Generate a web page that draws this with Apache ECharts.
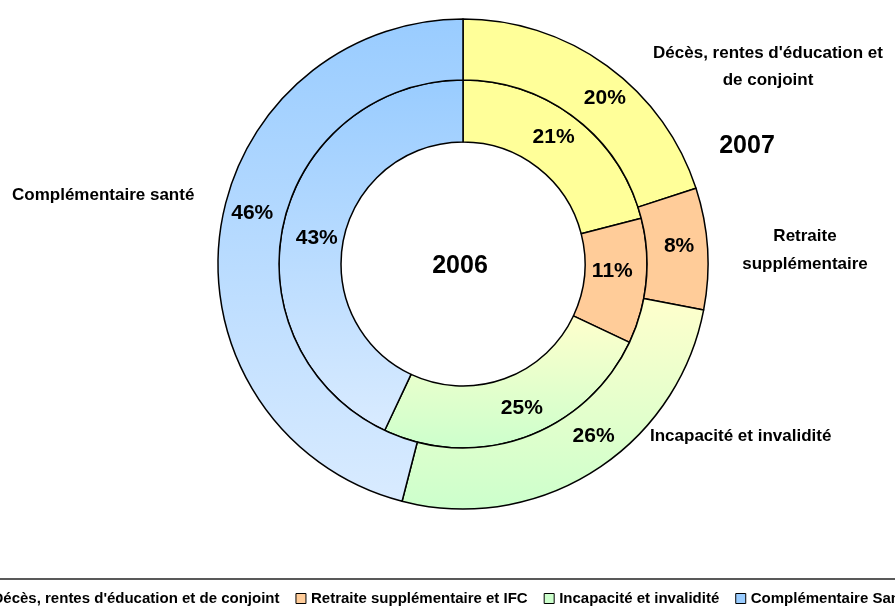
<!DOCTYPE html>
<html>
<head>
    <meta charset="utf-8">
    <title>ECharts</title>
    <script src="https://cdn.jsdelivr.net/npm/echarts@6/dist/echarts.min.js"></script>
    <style>
        html, body { margin: 0; padding: 0; background: #fff; }
    </style>
</head>
<body>
    <div id="main" style="width: 895px;height:610px;"></div>
    <script type="text/javascript">
        // catégories et parts (%)
        var categories = ["Décès, rentes d'éducation et de conjoint", 'Retraite supplémentaire et IFC', 'Incapacité et invalidité', 'Complémentaire Santé'];
        var values2006 = [21, 11, 25, 43];
        var values2007 = [20, 8, 26, 46];

        var colors = [
            '#FFFF99',
            '#FFCC99',
            new echarts.graphic.LinearGradient(0, 0, 0, 1, [{offset: 0, color: '#FFFFCC'}, {offset: 1, color: '#CCFFCC'}]),
            new echarts.graphic.LinearGradient(0, 0, 0, 1, [{offset: 0, color: '#99CCFF'}, {offset: 1, color: '#D9EBFF'}])
        ];
        var legendColors = ['#FFFF99', '#FFCC99', '#CCFFCC', '#99CCFF'];

        // petits décalages des étiquettes pour coller au placement d'origine
        var shift2006 = [[-5, -4], [-6, -7], [6, -3], [6, 8]];
        var shift2007 = [[14, 10], [-1, -4], [14, -11], [5, -24]];

        var center = [463, 264];

        function buildData(values) {
            return values.map(function (v, i) {
                return { name: categories[i], value: v, itemStyle: { color: colors[i] } };
            });
        }

        function ring(name, values, radius, shift) {
            return {
                name: name,
                type: 'pie',
                center: center,
                radius: radius,
                startAngle: 90,
                clockwise: true,
                silent: true,
                avoidLabelOverlap: false,
                itemStyle: { borderColor: '#000', borderWidth: 1.5 },
                label: {
                    show: true,
                    position: 'inside',
                    formatter: '{c}%',
                    color: '#000',
                    fontFamily: 'Liberation Sans Narrow, Liberation Sans, Arial',
                    fontWeight: 'bold',
                    fontSize: 21
                },
                labelLine: { show: false },
                labelLayout: function (p) {
                    return { dx: shift[p.dataIndex][0], dy: shift[p.dataIndex][1] };
                },
                emphasis: { disabled: true },
                data: buildData(values)
            };
        }

        var labelFont = 'bold 17px "Liberation Sans", Arial';
        var yearFont = 'bold 25px "Liberation Sans", Arial';

        var myChart = echarts.init(document.getElementById('main'));
        var option = {
            animation: false,
            legend: {
                left: -28,
                top: 586,
                width: 1100,
                itemWidth: 10,
                itemHeight: 10,
                itemGap: 16,
                icon: 'rect',
                selectedMode: false,
                textStyle: { color: '#000', fontFamily: 'Liberation Sans, Arial', fontWeight: 'bold', fontSize: 15 },
                data: categories.map(function (c, i) {
                    return { name: c, itemStyle: { color: legendColors[i], borderColor: '#000', borderWidth: 1 } };
                })
            },
            graphic: [
                { type: 'line', shape: { x1: 0, y1: 579, x2: 895, y2: 579 }, style: { stroke: '#222', lineWidth: 1.5 } },
                { type: 'text', x: 460, y: 266, style: { text: '2006', font: yearFont, fill: '#000', textAlign: 'center', textVerticalAlign: 'middle' } },
                { type: 'text', x: 747, y: 146, style: { text: '2007', font: yearFont, fill: '#000', textAlign: 'center', textVerticalAlign: 'middle' } },
                { type: 'text', x: 768, y: 67, style: { text: "Décès, rentes d'éducation et\nde conjoint", font: labelFont, lineHeight: 27, fill: '#000', textAlign: 'center', textVerticalAlign: 'middle' } },
                { type: 'text', x: 805, y: 250, style: { text: 'Retraite\nsupplémentaire', font: labelFont, lineHeight: 28, fill: '#000', textAlign: 'center', textVerticalAlign: 'middle' } },
                { type: 'text', x: 650, y: 436, style: { text: 'Incapacité et invalidité', font: labelFont, fill: '#000', textAlign: 'left', textVerticalAlign: 'middle' } },
                { type: 'text', x: 12, y: 195, style: { text: 'Complémentaire santé', font: labelFont, fill: '#000', textAlign: 'left', textVerticalAlign: 'middle' } }
            ],
            series: [
                ring('2006', values2006, [122, 184], shift2006),
                ring('2007', values2007, [184, 245], shift2007)
            ]
        };
        myChart.setOption(option);
    </script>
</body>
</html>
